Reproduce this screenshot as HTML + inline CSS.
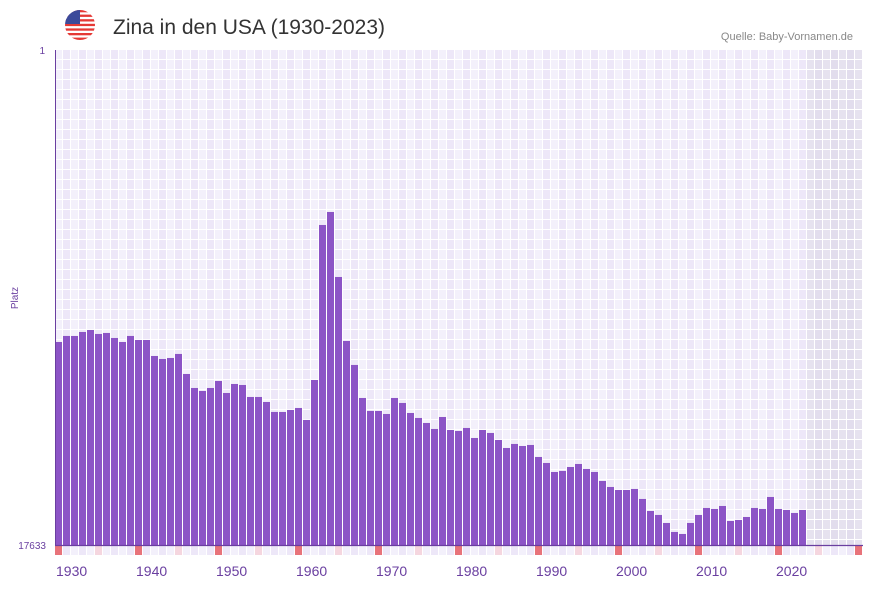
<!DOCTYPE html>
<html><head><meta charset="utf-8"><style>
body{margin:0;background:#fff;width:873px;height:587px;overflow:hidden;font-family:"Liberation Sans",sans-serif}
</style></head><body>
<svg id="chart" width="873" height="587" xmlns="http://www.w3.org/2000/svg">
<defs><clipPath id="fc"><circle cx="80" cy="25" r="15"/></clipPath></defs>
<g clip-path="url(#fc)">
<rect x="65" y="10" width="30" height="30" fill="#fff"/>
<rect x="65" y="10" width="30" height="2.3" fill="#e53935"/><rect x="65" y="14.6" width="30" height="2.3" fill="#e53935"/>
<rect x="65" y="19.2" width="30" height="2.3" fill="#e53935"/><rect x="65" y="23.8" width="30" height="2.3" fill="#e53935"/>
<rect x="65" y="28.4" width="30" height="2.3" fill="#e53935"/><rect x="65" y="33" width="30" height="2.3" fill="#e53935"/>
<rect x="65" y="37.6" width="30" height="2.4" fill="#e53935"/>
<rect x="65" y="10" width="15" height="14" fill="#3c4a9a"/>
</g>
<text x="113" y="34" font-size="21" fill="#333" font-family="Liberation Sans, sans-serif">Zina in den USA (1930-2023)</text>
<text x="853" y="40" font-size="11" fill="#888" text-anchor="end">Quelle: Baby-Vornamen.de</text>
<text x="45" y="54" font-size="10" fill="#6a3fa0" text-anchor="end">1</text>
<text x="46" y="549" font-size="10" fill="#6a3fa0" text-anchor="end">17633</text>
<text x="18" y="298" font-size="10" fill="#6a3fa0" text-anchor="middle" transform="rotate(-90 18 298)">Platz</text>
<g id="grid"></g><g id="bars"></g><g id="strip"></g><g id="xlabels"></g>
<line x1="55.5" y1="50" x2="55.5" y2="545" stroke="#6a3fa0" stroke-width="1"/>
<line x1="55" y1="545.5" x2="863" y2="545.5" stroke="#6a3fa0" stroke-width="1.2"/>
</svg>
<script>
const years=[];for(let y=1930;y<=2023;y++)years.push(y);
const ranks=[10401,10187,10187,10045,9974,10116,10080,10259,10401,10187,10330,10330,10900,11007,10971,10828,11541,12040,12146,12040,11790,12218,11897,11933,12360,12360,12538,12894,12894,12823,12752,13179,11755,6234,5770,8086,10365,11220,12396,12859,12859,12966,12396,12574,12930,13108,13286,13500,13073,13536,13571,13464,13821,13536,13642,13892,14177,14034,14106,14070,14497,14711,15032,14996,14854,14747,14925,15032,15352,15566,15673,15673,15637,15993,16421,16563,16848,17169,17240,16848,16563,16314,16350,16243,16777,16741,16635,16314,16350,15922,16350,16385,16492,16385];
const xTicks=[1930,1940,1950,1960,1970,1980,1990,2000,2010,2020];
const maxRank=17633, firstYear=1930, lastYear=2030, lastData=2023;
const X0=55,SLOT=8,Y0=50,Y1=545;
const xs=y=>X0+(y-firstYear)*SLOT;
const ys=r=>Y0+(r-1)/(maxRank-1)*(Y1-Y0);
const NS="http://www.w3.org/2000/svg";
function mk(t,a,p){const e=document.createElementNS(NS,t);for(const k in a)e.setAttribute(k,a[k]);p.appendChild(e);return e;}
const grid=document.getElementById('grid'),bars=document.getElementById('bars'),strip=document.getElementById('strip'),xl=document.getElementById('xlabels');
for(let y=firstYear;y<=lastYear;y++){
  const fut=y>lastData;
  const c=mk('rect',{x:xs(y),y:Y0,width:SLOT,height:Y1-Y0,fill:fut?((y%2)?'#e2dded':'#e6e2ef'):((y%2)?'#ede7f8':'#f3f0fb')},grid);
  
  
  let f=(y%2)?'#ede7f8':'#f3f0fb';
  if(y%10===0)f='#e8737a';else if(y%5===0)f='#f5d6df';
  const s=mk('rect',{x:xs(y),y:546,width:SLOT-1,height:9,fill:f},strip);
  
  
}
for(let x=X0+SLOT-1;x<863;x+=SLOT){mk('rect',{x:x,y:Y0,width:1,height:Y1-Y0,fill:'#fff'},grid);mk('rect',{x:x,y:546,width:1,height:9,fill:'#fff'},strip);}
for(let y=Y0+9;y<Y1;y+=10){mk('rect',{x:X0,y:y,width:808,height:1,fill:'#fff'},grid);}
years.forEach((y,i)=>{
  const t=ys(ranks[i]);
  const b=mk('rect',{x:xs(y),y:t,width:SLOT-1,height:Y1-t,fill:'#8c54c6'},bars);
  
  
});
xTicks.forEach(y=>{
  const t=mk('text',{x:xs(y)+1,y:576,'font-size':14,fill:'#6a3fa0'},xl);
  t.textContent=y;
  
  
});
</script>
</body></html>
